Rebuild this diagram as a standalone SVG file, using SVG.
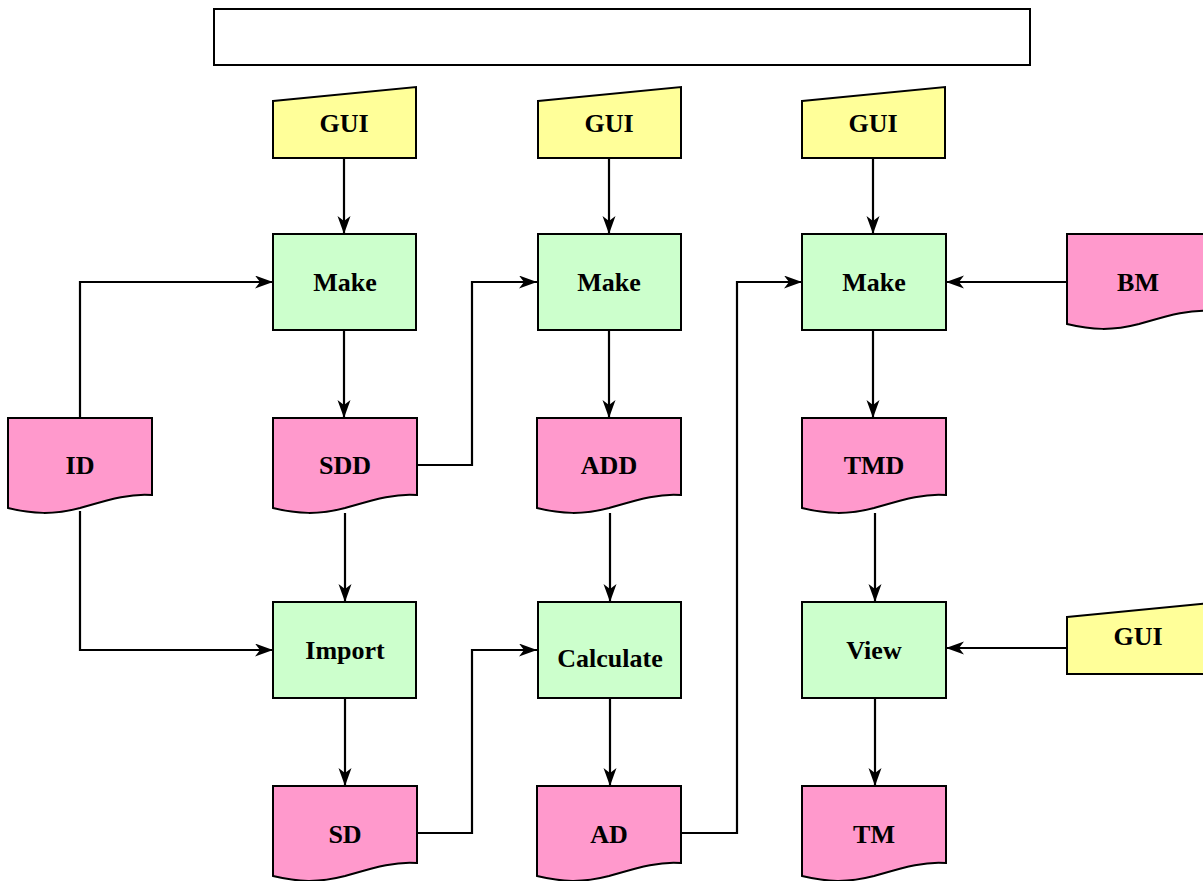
<svg xmlns="http://www.w3.org/2000/svg" xmlns:xlink="http://www.w3.org/1999/xlink" width="1203" height="881" viewBox="0 0 1203 881">
  <style>
    .frame { fill: #ffffff; stroke: #000000; stroke-width: 2; }
    .input { fill: #ffff99; stroke: #000000; stroke-width: 2; stroke-linejoin: miter; }
    .proc { fill: #ccffcc; stroke: #000000; stroke-width: 2; }
    .doc { fill: #ff99cc; stroke: #000000; stroke-width: 2; stroke-linejoin: miter; }
    .label { font-family: "Liberation Serif", "Times New Roman", serif; font-weight: bold; font-size: 26px; fill: #000000; text-anchor: middle; }
    .edge { fill: none; stroke: #000000; stroke-width: 2.2; marker-end: url(#arrow); }
  </style>
  <defs>
    <marker id="arrow" markerUnits="userSpaceOnUse" markerWidth="20" markerHeight="14" refX="18" refY="6.5" orient="auto">
      <path d="M0,0 L18,6.5 L0,13 L5,6.5 Z" fill="#000000"/>
    </marker>
    <!-- manual input: sloped top edge -->
    <path id="manual" d="M0,14 L143,0 L143,71 L0,71 Z"/>
    <!-- document: wavy bottom edge -->
    <path id="document" d="M0,0 H144 V77 C122,75 100,82 72,90 C45,97 25,96 0,90 Z"/>
  </defs>

  <rect id="title" class="frame" x="214" y="9" width="816" height="56"/>

  <g id="connectors">
    <path class="edge" d="M344,158 V234"/>
    <path class="edge" d="M609,158 V234"/>
    <path class="edge" d="M873,158 V234"/>
    <path class="edge" d="M344,330 V418"/>
    <path class="edge" d="M609,330 V418"/>
    <path class="edge" d="M873,330 V418"/>
    <path class="edge" d="M80,418 V282 H273"/>
    <path class="edge" d="M80,511 V650 H273"/>
    <path class="edge" d="M416,465 H472 V282 H537"/>
    <path class="edge" d="M345,513 V602"/>
    <path class="edge" d="M610,513 V602"/>
    <path class="edge" d="M875,513 V602"/>
    <path class="edge" d="M345,698 V786"/>
    <path class="edge" d="M610,698 V786"/>
    <path class="edge" d="M875,698 V786"/>
    <path class="edge" d="M416,833 H472 V650 H537"/>
    <path class="edge" d="M681,833 H737 V282 H802"/>
    <path class="edge" d="M1067,282 H946"/>
    <path class="edge" d="M1067,648 H946"/>
  </g>

  <g id="gui1"><use xlink:href="#manual" class="input" x="273" y="87"/><text class="label" x="344" y="132">GUI</text></g>
  <g id="gui2"><use xlink:href="#manual" class="input" x="538" y="87"/><text class="label" x="609" y="132">GUI</text></g>
  <g id="gui3"><use xlink:href="#manual" class="input" x="802" y="87"/><text class="label" x="873" y="132">GUI</text></g>

  <g id="make1"><rect class="proc" x="273" y="234" width="143" height="96"/><text class="label" x="345" y="291">Make</text></g>
  <g id="make2"><rect class="proc" x="538" y="234" width="143" height="96"/><text class="label" x="609" y="291">Make</text></g>
  <g id="make3"><rect class="proc" x="802" y="234" width="144" height="96"/><text class="label" x="874" y="291">Make</text></g>

  <g id="bm"><use xlink:href="#document" class="doc" x="1067" y="234"/><text class="label" x="1138" y="291">BM</text></g>

  <g id="id"><use xlink:href="#document" class="doc" x="8" y="418"/><text class="label" x="80" y="474">ID</text></g>
  <g id="sdd"><use xlink:href="#document" class="doc" x="273" y="418"/><text class="label" x="345" y="474">SDD</text></g>
  <g id="add"><use xlink:href="#document" class="doc" x="537" y="418"/><text class="label" x="609" y="474">ADD</text></g>
  <g id="tmd"><use xlink:href="#document" class="doc" x="802" y="418"/><text class="label" x="874" y="474">TMD</text></g>

  <g id="import"><rect class="proc" x="273" y="602" width="143" height="96"/><text class="label" x="345" y="659">Import</text></g>
  <g id="calculate"><rect class="proc" x="538" y="602" width="143" height="96"/><text class="label" x="610" y="667">Calculate</text></g>
  <g id="view"><rect class="proc" x="802" y="602" width="144" height="96"/><text class="label" x="874" y="659">View</text></g>

  <g id="gui4"><use xlink:href="#manual" class="input" x="1067" y="603"/><text class="label" x="1138" y="645">GUI</text></g>

  <g id="sd"><use xlink:href="#document" class="doc" x="273" y="786"/><text class="label" x="345" y="843">SD</text></g>
  <g id="ad"><use xlink:href="#document" class="doc" x="537" y="786"/><text class="label" x="609" y="843">AD</text></g>
  <g id="tm"><use xlink:href="#document" class="doc" x="802" y="786"/><text class="label" x="874" y="843">TM</text></g>
</svg>
